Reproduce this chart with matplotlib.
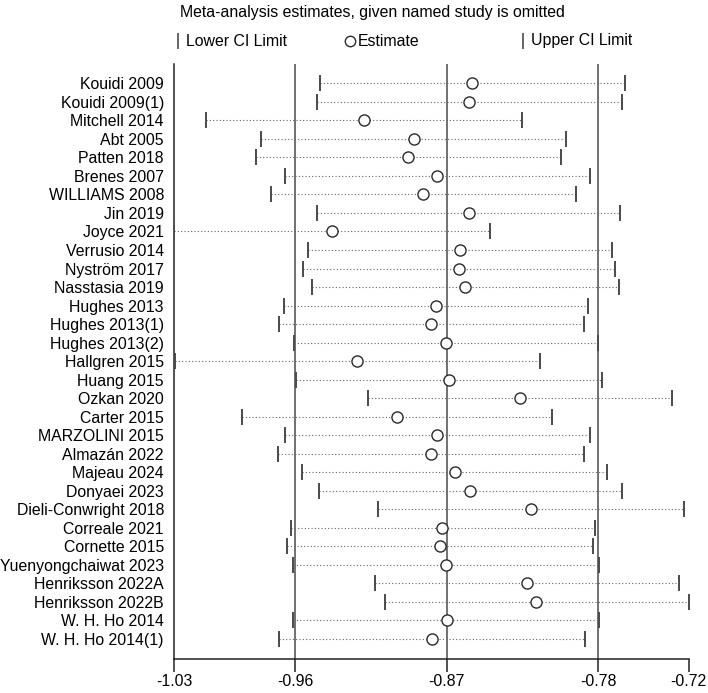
import matplotlib
matplotlib.use("Agg")
import matplotlib.pyplot as plt
from matplotlib.lines import Line2D

plt.rcParams["font.family"] = ["Liberation Sans", "DejaVu Sans"]

studies = [
    "Kouidi 2009", "Kouidi 2009(1)", "Mitchell 2014", "Abt 2005", "Patten 2018",
    "Brenes 2007", "WILLIAMS 2008", "Jin 2019", "Joyce 2021", "Verrusio 2014",
    "Nyström 2017", "Nasstasia 2019", "Hughes 2013", "Hughes 2013(1)", "Hughes 2013(2)",
    "Hallgren 2015", "Huang 2015", "Ozkan 2020", "Carter 2015", "MARZOLINI 2015",
    "Almazán 2022", "Majeau 2024", "Donyaei 2023", "Dieli-Conwright 2018", "Correale 2021",
    "Cornette 2015", "Yuenyongchaiwat 2023", "Henriksson 2022A", "Henriksson 2022B",
    "W. H. Ho 2014", "W. H. Ho 2014(1)",
]
lower = [
    -0.9419, -0.9436, -1.0090, -0.9765, -0.9798, -0.9624, -0.9708, -0.9436, -1.0279, -0.9489,
    -0.9517, -0.9468, -0.9631, -0.9659, -0.9570, -1.0277, -0.9559, -0.9135, -0.9879, -0.9625,
    -0.9665, -0.9523, -0.9424, -0.9074, -0.9592, -0.9614, -0.9576, -0.9092, -0.9036, -0.9576,
    -0.9661,
]
estimate = [
    -0.8519, -0.8537, -0.9157, -0.8863, -0.8899, -0.8726, -0.8808, -0.8540, -0.9348, -0.8593,
    -0.8599, -0.8560, -0.8733, -0.8761, -0.8674, -0.9198, -0.8656, -0.8237, -0.8965, -0.8727,
    -0.8763, -0.8623, -0.8531, -0.8172, -0.8696, -0.8711, -0.8672, -0.8196, -0.8141, -0.8670,
    -0.8757,
]
upper = [
    -0.7617, -0.7636, -0.8225, -0.7965, -0.7995, -0.7823, -0.7908, -0.7644, -0.8414, -0.7693,
    -0.7678, -0.7652, -0.7833, -0.7861, -0.7776, -0.8117, -0.7753, -0.7337, -0.8050, -0.7823,
    -0.7859, -0.7721, -0.7634, -0.7268, -0.7796, -0.7808, -0.7769, -0.7298, -0.7240, -0.7769,
    -0.7851,
]

# overall estimate and its CI (reference lines)
overall = [-0.9565, -0.8670, -0.7775]
tick_vals = [-1.0279, -0.9565, -0.8670, -0.7775, -0.7240]
tick_labels = ["-1.03", "-0.96", "-0.87", "-0.78", "-0.72"]

DARK = "#4a4a4a"
FS = 11.4

fig = plt.figure(figsize=(7.08, 6.93), dpi=100)
ax = fig.add_axes([174.3 / 708, 1 - 659 / 693, (688.7 - 174.3) / 708, (659 - 64) / 693])

rows = list(range(len(studies)))
for v in overall:
    ax.axvline(v, color="#4a4a4a", lw=1.1, zorder=1)

for y, lo, est, hi in zip(rows, lower, estimate, upper):
    ax.plot([lo, hi], [y, y], color="#666666", lw=0.8, linestyle=(0, (1, 2)), zorder=2)
ax.plot(lower, rows, linestyle="none", marker="|", ms=12, mew=1.4, color=DARK, zorder=3)
ax.plot(upper, rows, linestyle="none", marker="|", ms=12, mew=1.4, color=DARK, zorder=3)
ax.plot(estimate, rows, linestyle="none", marker="o", ms=8, mfc="white", mec="#2a2a2a",
        mew=1.0, zorder=4)

ax.set_xlim(tick_vals[0], tick_vals[-1])
ax.set_ylim(len(studies) - 1 + 1.08, -1.04)
ax.set_yticks(rows)
ax.set_yticklabels(studies, fontsize=FS)
ax.tick_params(axis="y", length=0, pad=7.5)
ax.set_xticks(tick_vals)
ax.set_xticklabels(tick_labels, fontsize=FS)
ax.tick_params(axis="x", length=9, width=1.1, color="#222222", pad=2)
for side in ("top", "right"):
    ax.spines[side].set_visible(False)
for side in ("left", "bottom"):
    ax.spines[side].set_linewidth(1.1)
    ax.spines[side].set_color("#222222")

fig.text(180 / 708, 1 - 12 / 693, "Meta-analysis estimates, given named study is omitted",
         fontsize=FS, ha="left", va="center")

# legend row drawn by hand to keep Stata's equal-width columns
leg_y = 1 - 41 / 693
items = [(178 / 708, "|", "Lower CI Limit"), (350 / 708, "o", "Estimate"), (523 / 708, "|", "Upper CI Limit")]
for x, m, label in items:
    if m == "o":
        fig.add_artist(Line2D([x], [leg_y], marker="o", ms=7.5, mfc="white", mec="#2a2a2a", mew=1.0,
                              linestyle="none", transform=fig.transFigure))
    else:
        fig.add_artist(Line2D([x], [leg_y], marker="|", ms=12, mew=1.2, color=DARK,
                              linestyle="none", transform=fig.transFigure))
    fig.text(x + 8 / 708, leg_y, label, fontsize=FS, ha="left", va="center")

fig.savefig("out.png", dpi=100)
